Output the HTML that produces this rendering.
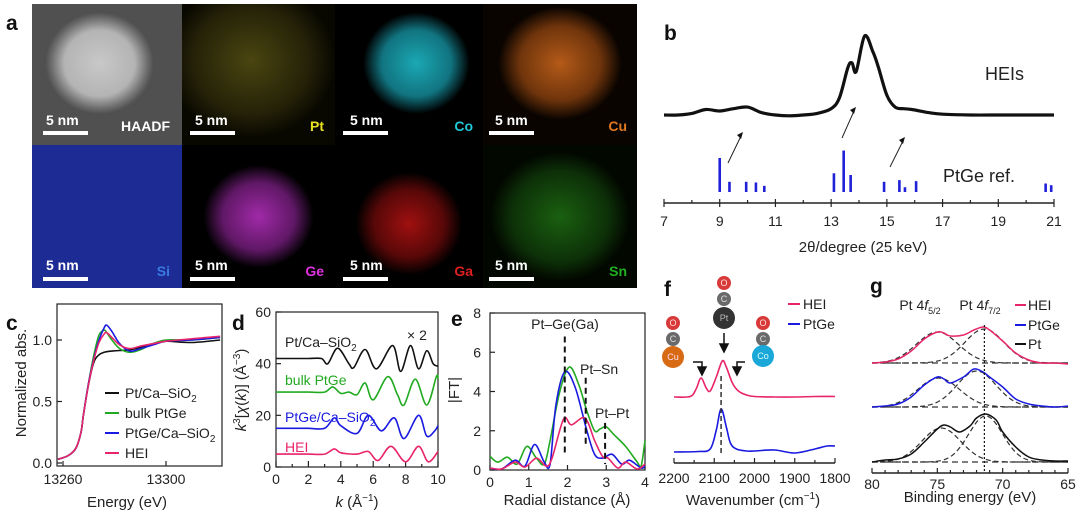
<!DOCTYPE html>
<html><head><meta charset="utf-8">
<style>
html,body{margin:0;padding:0;background:#fff;}
svg{display:block;font-family:"Liberation Sans","Noto Sans CJK SC",sans-serif;}
.t{font-size:14px;fill:#222;}
.tt{font-size:15px;fill:#222;}
.pl{font-size:21px;font-weight:bold;fill:#111;}
.nm{font-size:14px;font-weight:bold;fill:#fff;}
.el{font-size:14px;font-weight:bold;}
</style></head>
<body>
<svg id="fig" width="1080" height="518" viewBox="0 0 1080 518">
<defs>
<radialGradient id="gH" cx="0.45" cy="0.42" r="0.36"><stop offset="0" stop-color="#c8c8c8"/><stop offset="0.65" stop-color="#b4b4b4"/><stop offset="0.9" stop-color="#6a6a6a"/><stop offset="1" stop-color="#505050"/></radialGradient>
<radialGradient id="gPt" cx="0.45" cy="0.4" r="0.55"><stop offset="0" stop-color="#4a4510"/><stop offset="0.7" stop-color="#242108"/><stop offset="1" stop-color="#080800"/></radialGradient>
<radialGradient id="gCo" cx="0.55" cy="0.42" r="0.36"><stop offset="0" stop-color="#1aa8b4"/><stop offset="0.65" stop-color="#117480"/><stop offset="1" stop-color="#000"/></radialGradient>
<radialGradient id="gCu" cx="0.5" cy="0.42" r="0.4"><stop offset="0" stop-color="#b45a18"/><stop offset="0.65" stop-color="#70350c"/><stop offset="1" stop-color="#0a0400"/></radialGradient>
<radialGradient id="gGe" cx="0.5" cy="0.5" r="0.36"><stop offset="0" stop-color="#a02aa8"/><stop offset="0.65" stop-color="#601866"/><stop offset="1" stop-color="#000"/></radialGradient>
<radialGradient id="gGa" cx="0.5" cy="0.55" r="0.36"><stop offset="0" stop-color="#a01010"/><stop offset="0.65" stop-color="#580808"/><stop offset="1" stop-color="#000"/></radialGradient>
<radialGradient id="gSn" cx="0.5" cy="0.5" r="0.45"><stop offset="0" stop-color="#1a6010"/><stop offset="0.7" stop-color="#0d3008"/><stop offset="1" stop-color="#020800"/></radialGradient>
</defs>

<text class="pl" x="6" y="30">a</text>
<g>
<rect x="32" y="4" width="150" height="141" fill="url(#gH)"/>
<rect x="182" y="4" width="153" height="141" fill="url(#gPt)"/>
<rect x="335" y="4" width="148" height="141" fill="url(#gCo)"/>
<rect x="483" y="4" width="154" height="141" fill="url(#gCu)"/>
<rect x="32" y="145" width="150" height="143" fill="#1d2b95"/>
<rect x="182" y="145" width="153" height="143" fill="url(#gGe)"/>
<rect x="335" y="145" width="148" height="143" fill="url(#gGa)"/>
<rect x="483" y="145" width="154" height="143" fill="url(#gSn)"/>
<g>
<text class="nm" x="46" y="125">5 nm</text><rect x="43" y="131" width="45" height="4" fill="#fff"/>
<text class="nm" x="195" y="125">5 nm</text><rect x="190" y="131" width="45" height="4" fill="#fff"/>
<text class="nm" x="350" y="125">5 nm</text><rect x="343" y="131" width="45" height="4" fill="#fff"/>
<text class="nm" x="495" y="125">5 nm</text><rect x="489" y="131" width="45" height="4" fill="#fff"/>
<text class="nm" x="46" y="270">5 nm</text><rect x="43" y="277" width="45" height="4" fill="#fff"/>
<text class="nm" x="195" y="270">5 nm</text><rect x="190" y="277" width="45" height="4" fill="#fff"/>
<text class="nm" x="350" y="270">5 nm</text><rect x="343" y="277" width="45" height="4" fill="#fff"/>
<text class="nm" x="495" y="270">5 nm</text><rect x="489" y="277" width="45" height="4" fill="#fff"/>
</g>
<text class="el" x="170" y="131" text-anchor="end" fill="#fff">HAADF</text>
<text class="el" x="324" y="131" text-anchor="end" fill="#e8e020">Pt</text>
<text class="el" x="473" y="131" text-anchor="end" fill="#20c8d8">Co</text>
<text class="el" x="627" y="131" text-anchor="end" fill="#e07820">Cu</text>
<text class="el" x="170" y="276" text-anchor="end" fill="#3a7ae0">Si</text>
<text class="el" x="324" y="276" text-anchor="end" fill="#e030e0">Ge</text>
<text class="el" x="473" y="276" text-anchor="end" fill="#e02020">Ga</text>
<text class="el" x="627" y="276" text-anchor="end" fill="#20b020">Sn</text>
</g>

<text class="pl" x="664" y="40">b</text>
<text x="985" y="80" style="font-size:18px;fill:#222">HEIs</text>
<text x="943" y="182" style="font-size:18px;fill:#222">PtGe ref.</text>
<text class="tt" x="863" y="252" text-anchor="middle">2θ/degree (25 keV)</text>

<text class="pl" x="6" y="330">c</text>
<text class="tt" transform="translate(26,383) rotate(-90)" text-anchor="middle">Normalized abs.</text>
<text class="tt" x="127" y="507" text-anchor="middle">Energy (eV)</text>
<g>
<line x1="105" y1="393" x2="119" y2="393" stroke="#111" stroke-width="2"/><text class="t" x="125" y="398">Pt/Ca–SiO<tspan font-size="10" dy="4">2</tspan></text>
<line x1="105" y1="413" x2="119" y2="413" stroke="#22aa22" stroke-width="2"/><text class="t" x="125" y="418">bulk  PtGe</text>
<line x1="105" y1="433" x2="119" y2="433" stroke="#1a1ae0" stroke-width="2"/><text class="t" x="125" y="438">PtGe/Ca–SiO<tspan font-size="10" dy="4">2</tspan></text>
<line x1="105" y1="453" x2="119" y2="453" stroke="#e8246a" stroke-width="2"/><text class="t" x="125" y="458">HEI</text>
</g>

<text class="pl" x="232" y="330">d</text>
<text class="tt" transform="translate(246,390) rotate(-90)" text-anchor="middle"><tspan font-style="italic">k</tspan><tspan font-size="10" dy="-6">3</tspan><tspan dy="6">[</tspan><tspan font-style="italic">χ</tspan>(<tspan font-style="italic">k</tspan>)] (Å<tspan font-size="10" dy="-6">−3</tspan><tspan dy="6">)</tspan></text>
<text class="tt" x="357" y="507" text-anchor="middle"><tspan font-style="italic">k</tspan> (Å<tspan font-size="10" dy="-6">−1</tspan><tspan dy="6">)</tspan></text>
<text class="t" x="285" y="347" fill="#111">Pt/Ca–SiO<tspan font-size="10" dy="4">2</tspan></text>
<text class="t" x="407" y="340" fill="#111">× 2</text>
<text class="t" x="285" y="385" style="fill:#22aa22">bulk  PtGe</text>
<text class="t" x="285" y="422" style="fill:#1a1ae0">PtGe/Ca–SiO<tspan font-size="10" dy="4">2</tspan></text>
<text class="t" x="285" y="452" style="fill:#e8246a">HEI</text>

<text class="pl" x="451" y="326">e</text>
<text class="tt" transform="translate(459,390) rotate(-90)" text-anchor="middle">|FT|</text>
<text class="tt" x="567" y="505" text-anchor="middle">Radial distance (Å)</text>
<text class="t" x="565" y="329" text-anchor="middle">Pt–Ge(Ga)</text>
<text class="t" x="580" y="374">Pt–Sn</text>
<text class="t" x="595" y="418">Pt–Pt</text>

<text class="pl" x="664" y="296">f</text>
<text class="tt" x="753" y="505" text-anchor="middle">Wavenumber (cm<tspan font-size="10" dy="-6">−1</tspan><tspan dy="6">)</tspan></text>
<g>
<line x1="788" y1="304" x2="800" y2="304" stroke="#e8246a" stroke-width="2"/><text class="t" x="803" y="309">HEI</text>
<line x1="788" y1="324" x2="800" y2="324" stroke="#1a1ae0" stroke-width="2"/><text class="t" x="803" y="329">PtGe</text>
</g>
<g font-size="9" text-anchor="middle">
<circle cx="724" cy="283" r="7" fill="#d83a3a"/><circle cx="724" cy="299" r="7" fill="#6a6a6a"/><circle cx="724" cy="318" r="11" fill="#333"/>
<text x="724" y="286" fill="#fdd">O</text><text x="724" y="302" fill="#ddd">C</text><text x="724" y="321" fill="#bbb">Pt</text>
<circle cx="673" cy="323" r="7" fill="#d83a3a"/><circle cx="673" cy="339" r="7" fill="#6a6a6a"/><circle cx="673" cy="357" r="11" fill="#d86a14"/>
<text x="673" y="326" fill="#fdd">O</text><text x="673" y="342" fill="#ddd">C</text><text x="673" y="360" fill="#fde">Cu</text>
<circle cx="763" cy="323" r="7" fill="#d83a3a"/><circle cx="763" cy="339" r="7" fill="#6a6a6a"/><circle cx="763" cy="356" r="11" fill="#1aa8d8"/>
<text x="763" y="326" fill="#fdd">O</text><text x="763" y="342" fill="#ddd">C</text><text x="763" y="359" fill="#dff">Co</text>
</g>
<g stroke="#111" stroke-width="1.5" fill="none">
<line x1="724" y1="333" x2="724" y2="346"/><path d="M720 344 L724 352 L728 344 Z" fill="#111"/>
<path d="M693 362 L702 362 L702 369"/><path d="M698 367 L702 375 L706 367 Z" fill="#111"/>
<path d="M745 362 L737 362 L737 369"/><path d="M733 367 L737 375 L741 367 Z" fill="#111"/>
</g>

<text class="pl" x="870" y="293">g</text>
<text class="tt" x="970" y="502" text-anchor="middle">Binding energy (eV)</text>
<text class="t" x="920" y="310" text-anchor="middle">Pt 4<tspan font-style="italic">f</tspan><tspan font-size="9" dy="4">5/2</tspan></text>
<text class="t" x="980" y="310" text-anchor="middle">Pt 4<tspan font-style="italic">f</tspan><tspan font-size="9" dy="4">7/2</tspan></text>
<g>
<line x1="1015" y1="305" x2="1026" y2="305" stroke="#e8246a" stroke-width="2"/><text class="t" x="1028" y="310">HEI</text>
<line x1="1015" y1="325" x2="1026" y2="325" stroke="#1a1ae0" stroke-width="2"/><text class="t" x="1028" y="330">PtGe</text>
<line x1="1015" y1="344" x2="1026" y2="344" stroke="#111" stroke-width="2"/><text class="t" x="1028" y="349">Pt</text>
</g>
</svg>

<script>
// ---------- DATA ----------
const xrdTheta = [7,7.5,8,8.5,9,9.5,10,10.5,11,11.5,12,12.5,13,13.3,13.6,13.75,13.9,14.2,14.5,14.7,15,15.3,15.6,15.9,16.5,17,18,19,20,21];
const xrdInt   = [0,0,0.02,0.07,0.05,0.08,0.1,0.03,0,-0.01,0,0.02,0.08,0.22,0.6,0.66,0.55,1.0,0.8,0.6,0.25,0.1,0.08,0.07,0.03,0.01,0,0,0,0];
const refTheta = [9,9.35,9.95,10.3,10.6,13.1,13.45,13.7,14.9,15.45,15.65,16.05,20.7,20.9];
const refInt   = [1.0,0.3,0.3,0.28,0.18,0.55,1.22,0.5,0.3,0.35,0.14,0.32,0.25,0.2];
const bTicks   = [7,9,11,13,15,17,19,21];
const cE   = [13258,13262,13265,13267,13268,13270,13272,13274,13276,13277,13279,13282,13286,13290,13295,13300,13310,13321];
const cPt  = [0.03,0.06,0.12,0.25,0.4,0.65,0.82,0.88,0.9,0.905,0.91,0.915,0.92,0.94,0.97,0.99,0.98,1.0];
const cBulk= [0.03,0.06,0.12,0.25,0.4,0.66,0.88,1.04,1.08,1.06,1.0,0.93,0.9,0.92,0.97,1.0,1.0,1.02];
const cPtGe= [0.03,0.06,0.12,0.25,0.4,0.66,0.85,1.0,1.1,1.12,1.07,0.97,0.91,0.93,0.96,0.99,1.0,1.02];
const cHEI = [0.03,0.06,0.12,0.25,0.4,0.65,0.84,0.98,1.05,1.06,1.02,0.96,0.93,0.95,0.97,0.99,1.01,1.03];
const cXTicks = [13260,13300];
const cYTicks = [0,0.5,1.0];
const cYLabels = ["0.0","0.5","1.0"];
const dkPt = [0,1,2,2.8,3.2,3.8,4.5,4.8,5.5,6.2,7.2,7.7,8.3,8.8,9.3,9.7,10];
const dPt  = [42,42,42,42,40,46,40,38.5,45.5,38,47,37,47,38,45,40,39];
const dkB  = [0,1,2,3,3.5,4,4.5,5,5.5,6,6.9,7.5,7.9,8.6,9.3,9.9,10];
const dBulk= [29,29,29,29,31,28.5,29,28,32.5,26,35,28,24,34,24,35,34];
const dkG  = [0,1,2,3,3.6,4,5,5.7,6.5,7.3,7.9,8.8,9.3,9.8,10];
const dPtGe= [15,15,15,15,19,16,13,20,14,19,11,20,12,14,16];
const dkH  = [0,1,2,3,3.6,4,5,5.7,6.3,7.1,8,8.8,9.4,10];
const dHEI = [5,5,5,5,7,5.5,5,6,2.5,8,2,8,2,6];
const dXTicks = [0,2,4,6,8,10];
const dYTicks = [0,20,40,60];
const eRG = [0,0.2,0.45,0.7,0.95,1.2,1.4,1.55,1.8,2.05,2.3,2.5,2.7,2.85,3.0,3.2,3.5,3.8,3.9,4];
const eBulk=[0.7,0.4,0.65,0.3,1.2,0.6,0.3,1.5,4.0,5.25,4.3,3.0,2.0,2.1,2.2,1.8,1.2,0.4,0.2,1.5];
const eRB = [0,0.3,0.65,0.9,1.15,1.4,1.55,1.7,1.93,2.2,2.5,2.7,2.9,3.15,3.4,3.6,3.9,4];
const ePtGe=[0.1,0.05,0.5,0.2,1.3,0.4,0.3,3.3,5.0,4.2,2.0,0.8,0.6,0.8,0.3,0.5,0.1,0.2];
const eRH = [0,0.3,0.65,0.9,1.2,1.45,1.6,1.9,2.1,2.45,2.7,2.9,3.05,3.3,3.5,3.8,4];
const eHEI= [0.1,0.05,0.4,0.15,0.6,0.2,0.6,2.6,2.3,2.65,1.5,0.7,0.6,0.1,0.4,0.05,0.3];
const eMarkR = [1.93,2.47,2.97];
const eMarkTop = [6.8,4.7,2.4];
const eMarkBot = [0.8,1.2,0.3];
const eXTicks = [0,1,2,3,4];
const eYTicks = [0,2,4,6,8];
const fWnH = [2200,2160,2145,2133,2120,2110,2095,2080,2070,2055,2040,2020,2000,1950,1900,1850,1800];
const fHEI = [0,0.5,8,19,9,6,20,36,30,14,6,2,0.5,0,0,0.5,0.5];
const fWnB = [2200,2140,2110,2095,2083,2070,2060,2045,2020,2000,1950,1900,1850,1820,1800];
const fPtGe= [0,0.5,3,22,43,25,9,3,1,1,2,-1,3,6,6];
const fXTicks = [2200,2100,2000,1900,1800];
const gBE = [80,79,78,77,76,75,74.5,74,73,72.2,71.5,71,70,69,68,67,66,65];
const gHEI = [0,1,4,12,24,31,30,27,28,33,36,33,22,10,3,0,0,-1];
const gPtGe= [0,1,3,10,22,30,28,24,30,38,35,30,20,8,3,1,0,1];
const gBEP = [80,79,78,77,76,75,74.5,74,73.3,72.5,72,71.3,70.5,70,69,68,67,66,65];
const gPt  = [0,2,3,8,20,33,37,35,30,36,44,48,42,30,15,5,2,1,1];
const gFitCenter = [[75,71.4],[74.9,72.0],[74.7,71.3]];
const gFitHeight = [[31,34],[29,36],[34,46]];
const gFitWidth  = [[1.6,1.5],[1.6,1.5],[1.5,1.3]];
const gXTicks = [80,75,70,65];

// ---------- HELPERS ----------
const NS='http://www.w3.org/2000/svg';
const svg=document.getElementById('fig');
function mk(tag,attrs){const e=document.createElementNS(NS,tag);for(const k in attrs)e.setAttribute(k,attrs[k]);svg.appendChild(e);return e;}
function lin(d0,d1,r0,r1){return v=>r0+(v-d0)*(r1-r0)/(d1-d0);}
function smoothD(p){let d='M'+p[0][0].toFixed(1)+' '+p[0][1].toFixed(1);
 for(let i=0;i<p.length-1;i++){const p0=p[i-1]||p[i],p1=p[i],p2=p[i+1],p3=p[i+2]||p2;
  const c1=[p1[0]+(p2[0]-p0[0])/6,p1[1]+(p2[1]-p0[1])/6],c2=[p2[0]-(p3[0]-p1[0])/6,p2[1]-(p3[1]-p1[1])/6];
  d+=' C'+c1[0].toFixed(1)+' '+c1[1].toFixed(1)+' '+c2[0].toFixed(1)+' '+c2[1].toFixed(1)+' '+p2[0].toFixed(1)+' '+p2[1].toFixed(1);}
 return d;}
function series(xs,ys,sx,sy,color,name,w,dash){
 const pts=xs.map((x,i)=>[sx(x),sy(ys[i])]);
 const p=mk('path',{d:smoothD(pts),fill:'none',stroke:color,'stroke-width':w||1.6,'stroke-dasharray':dash||'none','stroke-linejoin':'round'});
 
 
 return p;}
function label(x,y,str,anchor,name){const t=mk('text',{x:x,y:y,'text-anchor':anchor,class:'t'});t.textContent=str;
 
 
 return t;}
function seg(x1,y1,x2,y2,name,w,dash,color){const l=mk('line',{x1:x1,y1:y1,x2:x2,y2:y2,stroke:color||'#222','stroke-width':w||1.2,'stroke-dasharray':dash||'none'});
 
 
 return l;}
function box(x0,y0,x1,y1,name){const r=mk('rect',{x:x0,y:y0,width:x1-x0,height:y1-y0,fill:'none',stroke:'#222','stroke-width':1.2});
 
 }

// ---------- PANEL B ----------
const bx=lin(7,21,664,1054), byX=lin(0,1,115,36), byR=lin(0,1,192,158);
seg(664,203,1054,203,'b-x-axis',1.5);
for(let t=7;t<=21;t++){seg(bx(t),bTicks.includes(t)?199:200,bx(t),bTicks.includes(t)?207:203,'b-x-tick',1.2);}
bTicks.forEach(t=>label(bx(t),226,String(t),'middle','b-x-tick-label'));
series(xrdTheta,xrdInt,bx,byX,'#111','heis-xrd-line',3.2);
refTheta.forEach((t,i)=>{const r=mk('rect',{x:bx(t)-1.3,y:byR(refInt[i]),width:2.6,height:192-byR(refInt[i]),fill:'#2020d8'});
 
 });
[[728,163,743,132],[842,138,856,107],[890,167,905,137]].forEach(a=>{
 seg(a[0],a[1],a[2]-2,a[3]+4,'b-arrow',1);
 const h=mk('path',{d:`M${a[2]} ${a[3]} l-6 3 l4 4 Z`,fill:'#111'});
 
 });

// ---------- PANEL C ----------
const cx=lin(13260,13300,63,166), cy=lin(0,1,463,340);
box(57,304,222,466,'c-plot-frame');
cXTicks.forEach(t=>{seg(cx(t),466,cx(t),461,'c-x-tick');label(cx(t),484,String(t),'middle','c-x-tick-label');});
cYTicks.forEach((t,i)=>{seg(57,cy(t),62,cy(t),'c-y-tick');label(52,cy(t)+5,cYLabels[i],'end','c-y-tick-label');});
series(cE,cPt,cx,cy,'#111','c-pt-line');
series(cE,cBulk,cx,cy,'#22aa22','c-bulk-ptge-line');
series(cE,cPtGe,cx,cy,'#1a1ae0','c-ptge-line');
series(cE,cHEI,cx,cy,'#e8246a','c-hei-line');

// ---------- PANEL D ----------
const dx=lin(0,10,276,438), dy=lin(0,60,467,312);
box(276,312,438,467,'d-plot-frame');
for(let k=0;k<=10;k++){seg(dx(k),467,dx(k),k%2?464:461,'d-x-tick');}
dXTicks.forEach(t=>label(dx(t),484,String(t),'middle','d-x-tick-label'));
dYTicks.forEach(t=>{seg(276,dy(t),281,dy(t),'d-y-tick');label(271,dy(t)+5,String(t),'end','d-y-tick-label');});
series(dkPt,dPt,dx,dy,'#111','d-pt-line');
series(dkB,dBulk,dx,dy,'#22aa22','d-bulk-ptge-line');
series(dkG,dPtGe,dx,dy,'#1a1ae0','d-ptge-line');
series(dkH,dHEI,dx,dy,'#e8246a','d-hei-line');

// ---------- PANEL E ----------
const ex=lin(0,4,490,645), ey=lin(0,8,470,313);
box(490,313,645,470,'e-plot-frame');
eXTicks.forEach(t=>{seg(ex(t),470,ex(t),465,'e-x-tick');label(ex(t),487,String(t),'middle','e-x-tick-label');});
eYTicks.forEach(t=>{seg(490,ey(t),495,ey(t),'e-y-tick');label(481,ey(t)+5,String(t),'end','e-y-tick-label');});
series(eRG,eBulk,ex,ey,'#22aa22','e-bulk-ptge-line');
series(eRB,ePtGe,ex,ey,'#1a1ae0','e-ptge-line');
series(eRH,eHEI,ex,ey,'#e8246a','e-hei-line');
eMarkR.forEach((r,i)=>seg(ex(r),ey(eMarkTop[i]),ex(r),ey(eMarkBot[i]),'e-bond-marker',2,'6 4','#111'));

// ---------- PANEL F ----------
const fx=lin(2200,1800,674,835), fyH=lin(0,36,397,361), fyB=lin(0,43,452,409);
seg(674,463,835,463,'f-x-axis',1.5);
for(let w=2200;w>=1800;w-=50){seg(fx(w),463,fx(w),w%100?460:458,'f-x-tick');}
fXTicks.forEach(t=>label(fx(t),483,String(t),'middle','f-x-tick-label'));
series(fWnH,fHEI,fx,fyH,'#e8246a','f-hei-line');
series(fWnB,fPtGe,fx,fyB,'#1a1ae0','f-ptge-line');
seg(fx(2083),376,fx(2083),456,'f-peak-marker',1.5,'5 3','#333');

// ---------- PANEL G ----------
const gx=lin(80,65,872,1068);
const gBase=[363,407,462];
const gData=[[gBE,gHEI,'#e8246a','g-hei-line'],[gBE,gPtGe,'#1a1ae0','g-ptge-line'],[gBEP,gPt,'#111','g-pt-line']];
seg(872,473,1068,473,'g-x-axis',1.5);
for(let b=80;b>=65;b--){seg(gx(b),473,gx(b),b%5?470:468,'g-x-tick');}
gXTicks.forEach(t=>label(gx(t),489,String(t),'middle','g-x-tick-label'));
gData.forEach((s,i)=>{
 const gy=v=>gBase[i]-v;
 seg(872,gBase[i],1068,gBase[i],'g-fit-baseline',1.2,'6 4','#333');
 for(let c=0;c<2;c++){
  const xs=[],ys=[];
  for(let b=80;b>=65;b-=0.5){xs.push(b);ys.push(gFitHeight[i][c]*Math.exp(-((b-gFitCenter[i][c])**2)/(2*gFitWidth[i][c]**2)));}
  series(xs,ys,gx,gy,'#333','g-fit-component',1.2,'5 3');
 }
 series(s[0],s[1],gx,gy,s[2],s[3],1.5);
});
seg(gx(71.4),325,gx(71.4),473,'g-pt-4f72-marker',1.2,'2 2','#111');
</script>
</body></html>
